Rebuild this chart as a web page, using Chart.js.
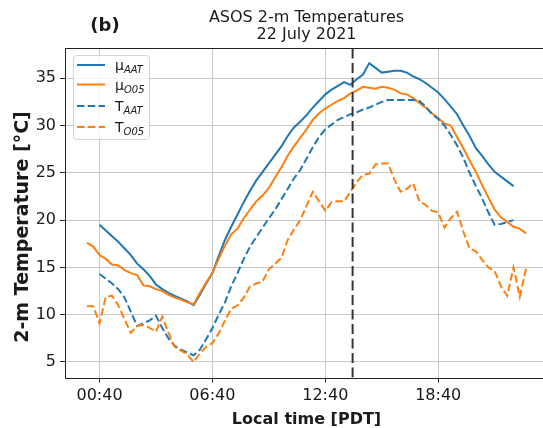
<!DOCTYPE html>
<html>
<head>
<meta charset="utf-8">
<script src="https://cdn.jsdelivr.net/npm/chart.js@4.4.1/dist/chart.umd.min.js"></script>
<style>
    html, body { margin: 0; padding: 0; background: #fff; overflow: hidden; }
    body { width: 543px; height: 428px; }
    #wrap { width: 550px; height: 428px; }
</style>
</head>
<body>
<div id="wrap"><canvas id="chart" width="550" height="428"></canvas></div>
<script>
// ASOS 2-m temperatures, 22 July 2021 (20-minute steps, local time PDT)
const times = [
    '00:00', '00:20', '00:40', '01:00', '01:20', '01:40', '02:00', '02:20', '02:40',
    '03:00', '03:20', '03:40', '04:00', '04:20', '04:40', '05:00', '05:20', '05:40',
    '06:00', '06:20', '06:40', '07:00', '07:20', '07:40', '08:00', '08:20', '08:40',
    '09:00', '09:20', '09:40', '10:00', '10:20', '10:40', '11:00', '11:20', '11:40',
    '12:00', '12:20', '12:40', '13:00', '13:20', '13:40', '14:00', '14:20', '14:40',
    '15:00', '15:20', '15:40', '16:00', '16:20', '16:40', '17:00', '17:20', '17:40',
    '18:00', '18:20', '18:40', '19:00', '19:20', '19:40', '20:00', '20:20', '20:40',
    '21:00', '21:20', '21:40', '22:00', '22:20', '22:40', '23:00', '23:20'
];

// mean over AAT stations
const muAAT = [
    null, null, 19.5, 18.9, 18.3, 17.7, 17.0, 16.3, 15.4,
    14.8, 14.1, 13.2, 12.7, 12.3, 12.0, 11.7, 11.4, 11.0,
    12.1, 13.3, 14.4, 16.2, 17.9, 19.3, 20.6, 21.9, 23.1,
    24.2, 25.1, 26.0, 26.9, 27.8, 28.9, 29.8, 30.4, 31.1,
    31.9, 32.6, 33.3, 33.8, 34.2, 34.6, 34.3, 34.9, 35.4,
    36.6, 36.1, 35.6, 35.7, 35.8, 35.8, 35.6, 35.2, 34.9,
    34.5, 34.0, 33.5, 32.8, 32.0, 31.2, 30.0, 28.9, 27.6,
    26.8, 25.9, 25.1, 24.6, 24.1, 23.6, null, null
];

// mean over O05 stations
const muO05 = [
    17.6, 17.2, 16.3, 15.9, 15.3, 15.2, 14.7, 14.4, 14.2,
    13.1, 13.0, 12.7, 12.5, 12.1, 11.8, 11.6, 11.3, 11.1,
    12.3, 13.4, 14.4, 15.9, 17.3, 18.5, 19.1, 20.2, 21.1,
    22.0, 22.6, 23.4, 24.5, 25.6, 26.8, 27.8, 28.7, 29.6,
    30.6, 31.3, 31.8, 32.2, 32.6, 32.9, 33.4, 33.7, 34.1,
    34.0, 33.9, 34.1, 34.0, 33.8, 33.4, 33.3, 32.9, 32.4,
    31.9, 31.3, 30.8, 30.2, 30.0, 28.8, 27.6, 26.3, 25.1,
    23.7, 22.4, 21.1, 20.3, 19.8, 19.3, 19.1, 18.6
];

// single station AAT
const tAAT = [
    null, null, 14.3, 13.8, 13.3, 12.7, 11.8, 10.3, 8.8,
    9.1, 9.4, 9.9, 8.6, 7.5, 6.7, 6.3, 6.0, 5.7,
    6.3, 7.4, 8.6, 10.0, 11.3, 13.0, 14.4, 15.9, 17.2,
    18.2, 19.2, 20.2, 21.1, 22.2, 23.3, 24.4, 25.3, 26.5,
    27.7, 28.8, 29.6, 30.1, 30.6, 30.9, 31.2, 31.4, 31.7,
    31.9, 32.2, 32.5, 32.7, 32.7, 32.7, 32.7, 32.7, 32.6,
    32.0, 31.2, 30.7, 30.0, 29.0, 27.9, 26.6, 25.0, 23.6,
    22.3, 20.8, 19.5, 19.6, 19.8, 20.0, null, null
];

// single station O05
const tO05 = [
    10.9, 10.9, 9.1, 11.9, 12.0, 11.0, 9.5, 8.1, 8.8,
    8.9, 8.6, 8.2, 9.8, 8.1, 6.6, 6.2, 5.8, 5.0,
    5.9, 6.6, 7.0, 8.0, 9.4, 10.6, 11.0, 11.8, 13.0,
    13.3, 13.5, 14.8, 15.4, 16.0, 17.9, 19.0, 20.0, 21.5,
    23.0, 22.0, 21.0, 21.9, 22.0, 22.0, 23.0, 24.0, 24.8,
    24.9, 25.9, 26.0, 26.0, 24.3, 23.0, 23.3, 23.9, 22.0,
    21.6, 21.0, 20.8, 19.2, 20.2, 20.9, 18.8, 17.0, 16.7,
    15.8, 15.0, 14.6, 13.0, 12.0, 15.0, 11.9, 14.9
];

const eventTime = '14:07';
const xTickLabels = ['00:40', '06:40', '12:40', '18:40'];
const yTicks = [5, 10, 15, 20, 25, 30, 35];
const xRange = [-70, 1470];   // minutes since midnight
const yRange = [3.36, 38.2];

const legendMain = ['\u03bc', '\u03bc', 'T', 'T'];
const legendSub = ['AAT', 'O05', 'AAT', 'O05'];

const BLUE = '#1f77b4';
const ORANGE = '#ff7f0e';
const FONT = "'DejaVu Sans', sans-serif";
const DASH = [7.5, 3.3];

const toMin = s => {
    const [h, m] = s.split(':').map(Number);
    return h * 60 + m;
};

function series(vals) {
    return times
        .map((t, i) => (vals[i] == null ? null : { x: toMin(t), y: vals[i] }))
        .filter(p => p);
}

const lineStyle = (color, dash) => ({
    borderColor: color,
    backgroundColor: color,
    borderWidth: 2,
    borderDash: dash || [],
    pointRadius: 0,
    tension: 0,
    fill: false
});

// Frame, titles, panel letter and legend with subscripts
const decorPlugin = {
    id: 'decor',
    afterDatasetsDraw(chart) {
        const { ctx, chartArea: a } = chart;
        ctx.save();
        ctx.strokeStyle = '#222';
        ctx.lineWidth = 1;
        ctx.strokeRect(Math.round(a.left) + 0.5, Math.round(a.top) + 0.5,
            Math.round(a.right - a.left), Math.round(a.bottom - a.top));
        ctx.restore();
    },
    afterDraw(chart) {
        const { ctx, chartArea: a } = chart;
        const cx = (a.left + a.right) / 2;
        ctx.save();
        ctx.fillStyle = '#1a1a1a';
        ctx.textAlign = 'center';
        ctx.textBaseline = 'alphabetic';
        ctx.font = `16px ${FONT}`;
        ctx.fillText('ASOS 2-m Temperatures', cx, 22);
        ctx.fillText('22 July 2021', cx, 39);
        ctx.font = `bold 18px ${FONT}`;
        ctx.fillText('(b)', 105, 31);

        // y axis label
        ctx.save();
        ctx.translate(23.5, 227);
        ctx.rotate(-Math.PI / 2);
        ctx.textBaseline = 'middle';
        ctx.font = `bold 19px ${FONT}`;
        ctx.fillText('2-m Temperature [\u00b0C]', 0, 0);
        ctx.restore();

        // legend box
        const bx = a.left + 8, by = a.top + 7, bw = 76, bh = 84;
        ctx.beginPath();
        ctx.roundRect(bx + 0.5, by + 0.5, bw, bh, 3);
        ctx.fillStyle = 'rgba(255,255,255,0.8)';
        ctx.fill();
        ctx.strokeStyle = '#d4d4d4';
        ctx.lineWidth = 1;
        ctx.stroke();

        const rows = [65, 84.5, 106, 127];
        const colors = [BLUE, ORANGE, BLUE, ORANGE];
        rows.forEach((y, i) => {
            ctx.beginPath();
            ctx.strokeStyle = colors[i];
            ctx.lineWidth = 2;
            ctx.setLineDash(i < 2 ? [] : DASH);
            ctx.moveTo(a.left + 12, y);
            ctx.lineTo(a.left + 40, y);
            ctx.stroke();
            ctx.setLineDash([]);

            ctx.fillStyle = '#1a1a1a';
            ctx.textAlign = 'left';
            ctx.font = `14px ${FONT}`;
            const tx = a.left + 50;
            ctx.fillText(legendMain[i], tx, y + 5);
            const w = ctx.measureText(legendMain[i]).width;
            ctx.font = `italic 10px ${FONT}`;
            ctx.fillText(legendSub[i], tx + w, y + 8);
        });
        ctx.restore();
    }
};

const ev = toMin(eventTime);

new Chart(document.getElementById('chart'), {
    type: 'line',
    data: {
        datasets: [
            { label: 'muAAT', data: series(muAAT), order: 5, ...lineStyle(BLUE) },
            { label: 'muO05', data: series(muO05), order: 4, ...lineStyle(ORANGE) },
            { label: 'TAAT', data: series(tAAT), order: 3, ...lineStyle(BLUE, DASH) },
            { label: 'TO05', data: series(tO05), order: 2, ...lineStyle(ORANGE, DASH) },
            {
                label: 'event',
                data: [{ x: ev, y: yRange[0] }, { x: ev, y: yRange[1] }],
                order: 1,
                ...lineStyle('#333333', [10, 4.5])
            }
        ]
    },
    options: {
        responsive: false,
        animation: false,
        layout: { padding: { top: 48, right: 2, left: 0, bottom: 0 } },
        plugins: {
            legend: { display: false },
            tooltip: { enabled: false },
            title: { display: false }
        },
        scales: {
            x: {
                type: 'linear',
                min: xRange[0],
                max: xRange[1],
                afterBuildTicks: s => { s.ticks = xTickLabels.map(l => ({ value: toMin(l) })); },
                afterFit: s => { s.height = 50.5; },
                ticks: {
                    font: { family: FONT, size: 16 },
                    color: '#1a1a1a',
                    padding: 4,
                    maxRotation: 0,
                    callback: v => xTickLabels.find(l => toMin(l) === v) || ''
                },
                grid: { color: '#c8c8c8', lineWidth: 1, tickLength: 5, tickColor: '#222' },
                border: { display: false },
                title: {
                    display: true,
                    text: 'Local time [PDT]',
                    font: { family: FONT, size: 16, weight: 'bold' },
                    color: '#1a1a1a',
                    padding: { top: 0, bottom: -1.5 }
                }
            },
            y: {
                min: yRange[0],
                max: yRange[1],
                afterBuildTicks: s => { s.ticks = yTicks.map(v => ({ value: v })); },
                afterFit: s => { s.width = 65; },
                ticks: {
                    font: { family: FONT, size: 16 },
                    color: '#1a1a1a',
                    padding: 4
                },
                grid: { color: '#c8c8c8', lineWidth: 1, tickLength: 5, tickColor: '#222' },
                border: { display: false },
                title: { display: false }
            }
        }
    },
    plugins: [decorPlugin]
});
</script>
</body>
</html>
